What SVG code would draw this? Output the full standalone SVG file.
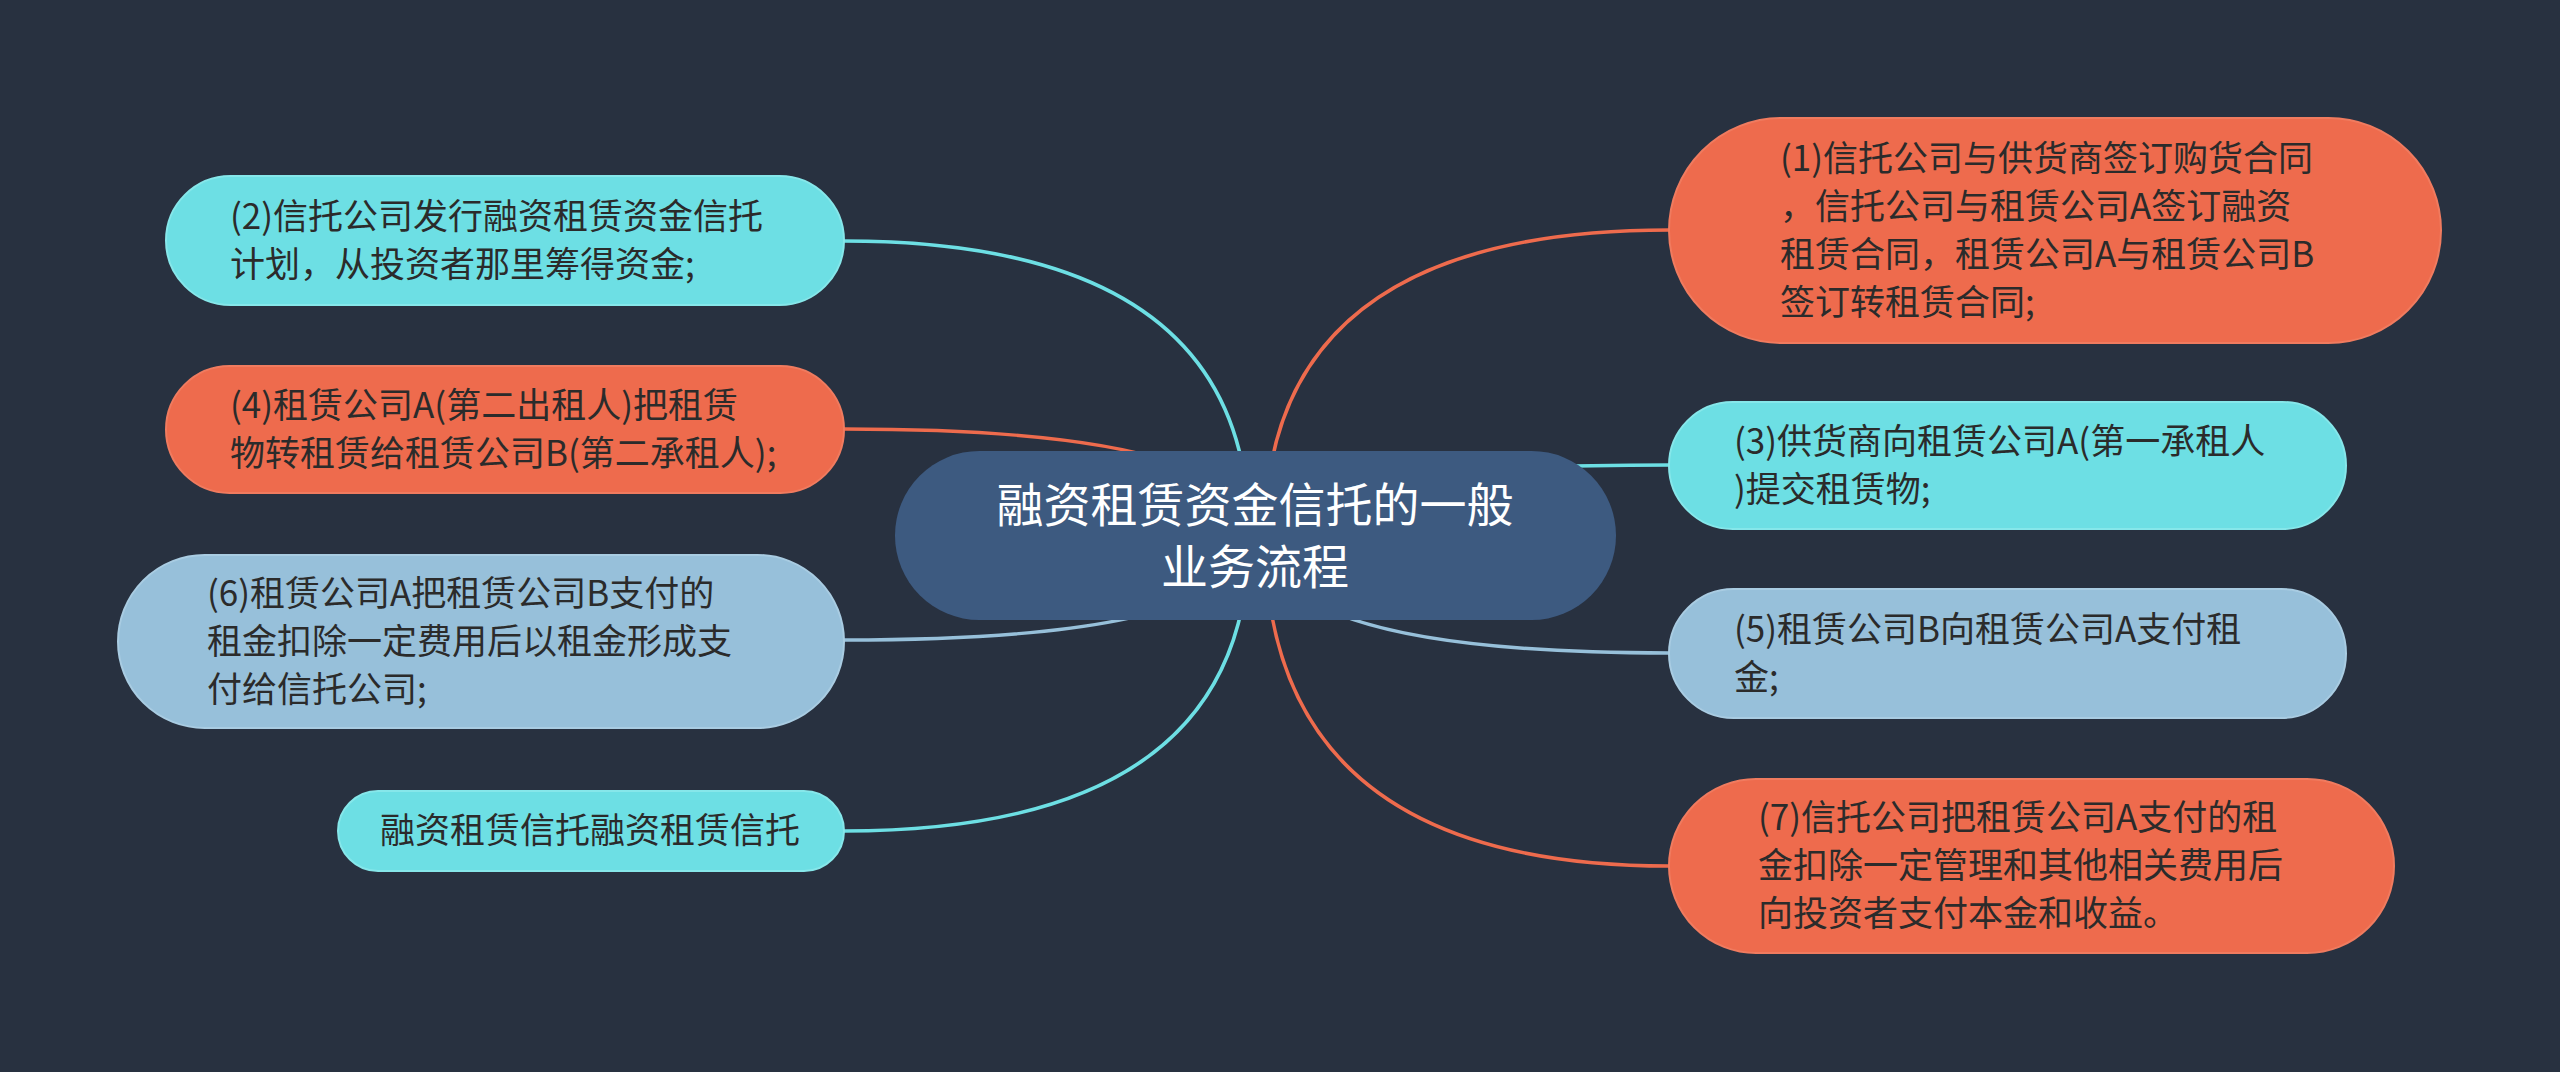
<svg xmlns="http://www.w3.org/2000/svg" width="2560" height="1072" viewBox="0 0 2560 1072">
<style>
.bg{fill:#283140}
.c{fill:none;stroke-width:3.5}
.or{fill:#ee6b4d;stroke:#f07b5f;stroke-width:2}
.cy{fill:#6ddfe4;stroke:#86e7ea;stroke-width:2}
.lb{fill:#97c0da;stroke:#a9cce2;stroke-width:2}
.ct{fill:#3d5a80}
.t{font-family:"Noto Sans CJK SC","Noto Sans",sans-serif;font-size:35px;fill:#2b2b2b}
.tc{font-family:"Noto Sans CJK SC","Noto Sans",sans-serif;font-size:47px;fill:#ffffff;text-anchor:middle}
</style>
<rect class="bg" width="2560" height="1072"/>
<g id="connectors">
<path class="c" stroke="#6ddfe4" d="M1249 535 Q1249 241 844 241"/>
<path class="c" stroke="#ee6b4d" d="M1249 535 Q1249 429 844 429"/>
<path class="c" stroke="#97c0da" d="M1249 535 Q1249 640 844 640"/>
<path class="c" stroke="#6ddfe4" d="M1249 535 Q1249 831 844 831"/>
<path class="c" stroke="#ee6b4d" d="M1265 535 Q1265 230 1669 230"/>
<path class="c" stroke="#6ddfe4" d="M1265 535 Q1265 465 1669 465"/>
<path class="c" stroke="#97c0da" d="M1265 535 Q1265 653 1669 653"/>
<path class="c" stroke="#ee6b4d" d="M1265 535 Q1265 866 1669 866"/>
</g>
<g id="center">
<rect class="ct" x="895" y="451" width="721" height="169" rx="84.5"/>
<text class="tc"><tspan x="1255" y="522">融资租赁资金信托的一般</tspan><tspan x="1255" y="584">业务流程</tspan></text>
</g>
<g id="n2">
<rect class="cy" x="166" y="176" width="678" height="129" rx="64.5"/>
<text class="t"><tspan x="230" y="229">(2)信托公司发行融资租赁资金信托</tspan><tspan x="230" y="277">计划，从投资者那里筹得资金;</tspan></text>
</g>
<g id="n4">
<rect class="or" x="166" y="366" width="678" height="127" rx="63.5"/>
<text class="t"><tspan x="230" y="418">(4)租赁公司A(第二出租人)把租赁</tspan><tspan x="230" y="466">物转租赁给租赁公司B(第二承租人);</tspan></text>
</g>
<g id="n6">
<rect class="lb" x="118" y="555" width="726" height="173" rx="86.5"/>
<text class="t"><tspan x="207" y="606">(6)租赁公司A把租赁公司B支付的</tspan><tspan x="207" y="654">租金扣除一定费用后以租金形成支</tspan><tspan x="207" y="702">付给信托公司;</tspan></text>
</g>
<g id="n8">
<rect class="cy" x="338" y="791" width="506" height="80" rx="40"/>
<text class="t" x="380" y="843">融资租赁信托融资租赁信托</text>
</g>
<g id="n1">
<rect class="or" x="1669" y="118" width="772" height="225" rx="112.5"/>
<text class="t"><tspan x="1780" y="171">(1)信托公司与供货商签订购货合同</tspan><tspan x="1780" y="219">，信托公司与租赁公司A签订融资</tspan><tspan x="1780" y="267">租赁合同，租赁公司A与租赁公司B</tspan><tspan x="1780" y="315">签订转租赁合同;</tspan></text>
</g>
<g id="n3">
<rect class="cy" x="1669" y="402" width="677" height="127" rx="63.5"/>
<text class="t"><tspan x="1734" y="454">(3)供货商向租赁公司A(第一承租人</tspan><tspan x="1734" y="502">)提交租赁物;</tspan></text>
</g>
<g id="n5">
<rect class="lb" x="1669" y="589" width="677" height="129" rx="64.5"/>
<text class="t"><tspan x="1734" y="642">(5)租赁公司B向租赁公司A支付租</tspan><tspan x="1734" y="690">金;</tspan></text>
</g>
<g id="n7">
<rect class="or" x="1669" y="779" width="725" height="174" rx="87"/>
<text class="t"><tspan x="1758" y="830">(7)信托公司把租赁公司A支付的租</tspan><tspan x="1758" y="878">金扣除一定管理和其他相关费用后</tspan><tspan x="1758" y="926">向投资者支付本金和收益。</tspan></text>
</g>
</svg>
